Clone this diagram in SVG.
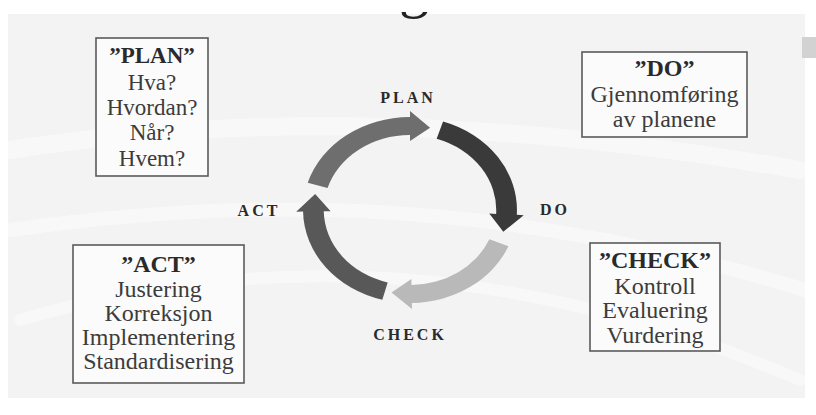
<svg xmlns="http://www.w3.org/2000/svg" width="816" height="415" viewBox="0 0 816 415">
<style>
.box{fill:#fbfbfb;stroke:#5a5a5a;stroke-width:1.6}
.t{font-family:"Liberation Serif","Times New Roman",serif;font-size:24px;fill:#3c3c3c;text-anchor:middle}
.h{font-weight:bold;fill:#2a2a2a}
.lbl{font-family:"Liberation Serif","Times New Roman",serif;font-size:16px;font-weight:bold;fill:#2a2a2a;letter-spacing:3px}
</style>
<defs>
<clipPath id="titleclip"><rect x="380" y="12" width="60" height="20"/></clipPath>
</defs>
<rect x="0" y="0" width="816" height="415" fill="#ffffff"/>
<rect x="8" y="14" width="797" height="384" fill="#f3f3f3"/>
<g fill="none" stroke="#ffffff" stroke-opacity="0.45" stroke-linecap="round">
<path d="M10,150 C200,120 450,110 800,170" stroke-width="18"/>
<path d="M10,230 C220,200 480,190 805,290" stroke-width="14"/>
<path d="M20,320 C260,250 520,260 800,380" stroke-width="12"/>
</g>
<rect x="802" y="37" width="14" height="21" fill="#d2d2d2"/>
<g clip-path="url(#titleclip)"><text x="414" y="6" class="t" style="font-size:60px;fill:#222">g</text></g>

<g id="connectors" transform="translate(410,210) scale(1.15,1)">
<path id="arrow-plan" fill="#6e6e6e" d="M-88.94,-27.19 A93,93 0 0 1 0,-93 L0,-99 L17.47,-82.16 L0,-69 L0,-75 A75,75 0 0 0 -71.72,-21.93 Z"/>
<path id="arrow-do" fill="#3a3a3a" d="M28.74,-88.45 A93,93 0 0 1 92.87,4.87 L98.86,5.18 L81.14,21.74 L68.91,3.61 L74.90,3.93 A75,75 0 0 0 23.18,-71.33 Z"/>
<path id="arrow-check" fill="#b9b9b9" d="M85.61,36.34 A93,93 0 0 1 1.62,92.99 L1.73,98.98 L-16.03,82.46 L1.20,68.99 L1.31,74.99 A75,75 0 0 0 69.04,29.30 Z"/>
<path id="arrow-act" fill="#585858" d="M-24.07,89.83 A93,93 0 0 1 -92.99,1.62 L-98.98,1.73 L-82.46,-16.03 L-68.99,1.20 L-74.99,1.31 A75,75 0 0 0 -19.41,72.44 Z"/>
</g>

<g id="label-plan"><text x="408" y="103" class="lbl" text-anchor="middle">PLAN</text></g>
<g id="label-do"><text x="555" y="215" class="lbl" text-anchor="middle">DO</text></g>
<g id="label-act"><text x="259" y="216" class="lbl" text-anchor="middle">ACT</text></g>
<g id="label-check"><text x="410" y="340" class="lbl" text-anchor="middle">CHECK</text></g>

<g id="box-plan">
<rect x="96" y="38" width="112" height="138" class="box"/>
<text x="152" y="63" class="t h" style="font-size:23px">”PLAN”</text>
<text x="152" y="90" class="t" style="font-size:23px">Hva?</text>
<text x="152" y="115" class="t" style="font-size:23px">Hvordan?</text>
<text x="152" y="140" class="t" style="font-size:23px">Når?</text>
<text x="152" y="166" class="t" style="font-size:23px">Hvem?</text>
</g>

<g id="box-do">
<rect x="582" y="52" width="165" height="85" class="box"/>
<text x="664.5" y="76" class="t h">”DO”</text>
<text x="664.5" y="102" class="t">Gjennomføring</text>
<text x="664.5" y="127" class="t">av planene</text>
</g>

<g id="box-act">
<rect x="73" y="245" width="171" height="138" class="box"/>
<text x="158.5" y="272" class="t h">”ACT”</text>
<text x="158.5" y="297" class="t">Justering</text>
<text x="158.5" y="321" class="t">Korreksjon</text>
<text x="158.5" y="345" class="t">Implementering</text>
<text x="158.5" y="369" class="t">Standardisering</text>
</g>

<g id="box-check">
<rect x="590" y="243" width="130" height="108" class="box"/>
<text x="655" y="268" class="t h">”CHECK”</text>
<text x="655" y="294" class="t">Kontroll</text>
<text x="655" y="318" class="t">Evaluering</text>
<text x="655" y="343" class="t">Vurdering</text>
</g>
</svg>
